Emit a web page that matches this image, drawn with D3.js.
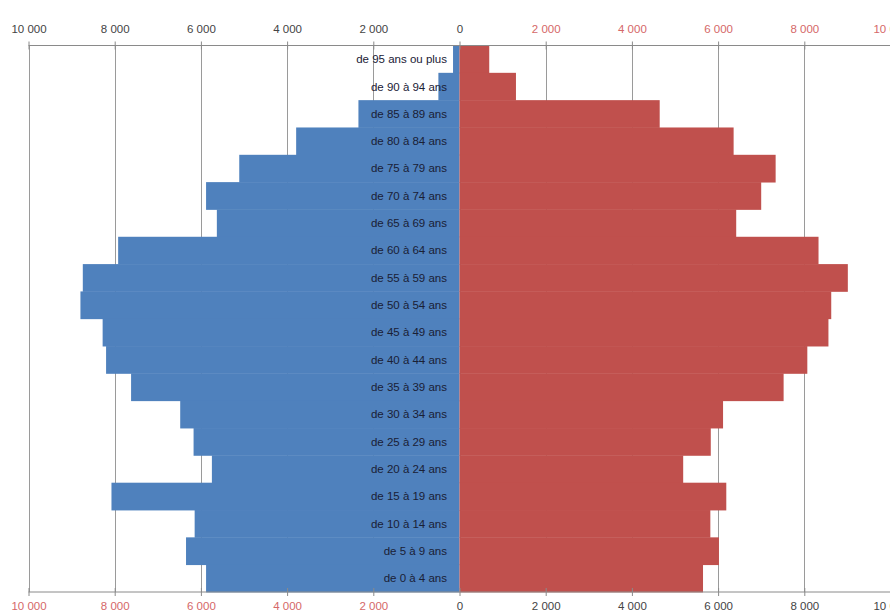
<!DOCTYPE html>
<html><head><meta charset="utf-8">
<script src="https://cdn.jsdelivr.net/npm/d3@7"></script>
<style>
html,body{margin:0;padding:0;background:#fff;}
svg{display:block;}
text{font-family:"Liberation Sans",Arial,sans-serif;}
</style></head>
<body><svg id="chart" width="890" height="616"></svg>
<script>
const categories = ["de 95 ans ou plus","de 90 à 94 ans","de 85 à 89 ans","de 80 à 84 ans","de 75 à 79 ans","de 70 à 74 ans","de 65 à 69 ans","de 60 à 64 ans","de 55 à 59 ans","de 50 à 54 ans","de 45 à 49 ans","de 40 à 44 ans","de 35 à 39 ans","de 30 à 34 ans","de 25 à 29 ans","de 20 à 24 ans","de 15 à 19 ans","de 10 à 14 ans","de 5 à 9 ans","de 0 à 4 ans"];
const hommes = [150,490,2345,3790,5110,5880,5630,7920,8740,8795,8280,8200,7620,6480,6170,5745,8075,6145,6345,5880];
const femmes = [690,1310,4645,6360,7335,7000,6420,8330,9010,8625,8560,8070,7520,6115,5830,5190,6190,5820,6020,5650];
const tickValues = [-10000,-8000,-6000,-4000,-2000,0,2000,4000,6000,8000,10000];

const svg = d3.select("#chart");
const plotTop = 45.5, plotBottom = 592;
const x = d3.scaleLinear().domain([-10000,10000]).range([28.5,890.5]);
const y = d3.scaleBand().domain(categories).range([plotTop,plotBottom]).padding(0);
const fmt = v => d3.format(",")(Math.abs(v)).replace(/,/g," ");

// grid
svg.append("g").selectAll("line").data(tickValues).join("line")
  .attr("x1",d=>Math.round(x(d))+0.5).attr("x2",d=>Math.round(x(d))+0.5)
  .attr("y1",plotTop).attr("y2",plotBottom)
  .attr("stroke","#9a9a9a").attr("stroke-width",1);

// bars
svg.append("g").selectAll("rect").data(categories).join("rect")
  .attr("x",(d,i)=>x(-hommes[i])).attr("width",(d,i)=>x(0)-x(-hommes[i]))
  .attr("y",d=>y(d)).attr("height",y.bandwidth()+0.4)
  .attr("fill","#4f81bd");
svg.append("g").selectAll("rect").data(categories).join("rect")
  .attr("x",x(0)).attr("width",(d,i)=>x(femmes[i])-x(0))
  .attr("y",d=>y(d)).attr("height",y.bandwidth()+0.4)
  .attr("fill","#c0504d");

// axes
const axTop = d3.axisTop(x).tickValues(tickValues).tickSize(4).tickSizeOuter(0).tickFormat(fmt);
const axBot = d3.axisBottom(x).tickValues(tickValues).tickSize(4).tickSizeOuter(0).tickFormat(fmt);
const gt = svg.append("g").attr("transform",`translate(0,${plotTop})`).call(axTop);
const gb = svg.append("g").attr("transform",`translate(0,${plotBottom})`).call(axBot);
[gt,gb].forEach(g=>{
  g.select(".domain").attr("stroke","#8a8a8a").attr("d",`M${x(-10000)},0H890`);
  g.selectAll(".tick line").attr("stroke","#8a8a8a").attr("y1",-4).attr("y2",4);
  g.selectAll(".tick text").attr("font-size","11.5px").attr("font-family","Liberation Sans, Arial, sans-serif");
});
gt.selectAll(".tick text").attr("y",-13).attr("fill",d=>d>0?"#d56868":"#444");
gb.selectAll(".tick text").attr("y",10).attr("fill",d=>d<0?"#d56868":"#444");

// category labels
svg.append("g").selectAll("text").data(categories).join("text")
  .attr("x",447).attr("y",d=>y(d)+y.bandwidth()/2)
  .attr("dy","0.35em").attr("text-anchor","end")
  .attr("font-size","11.5px").attr("fill","#1a2035")
  .text(d=>d);
</script></body></html>
